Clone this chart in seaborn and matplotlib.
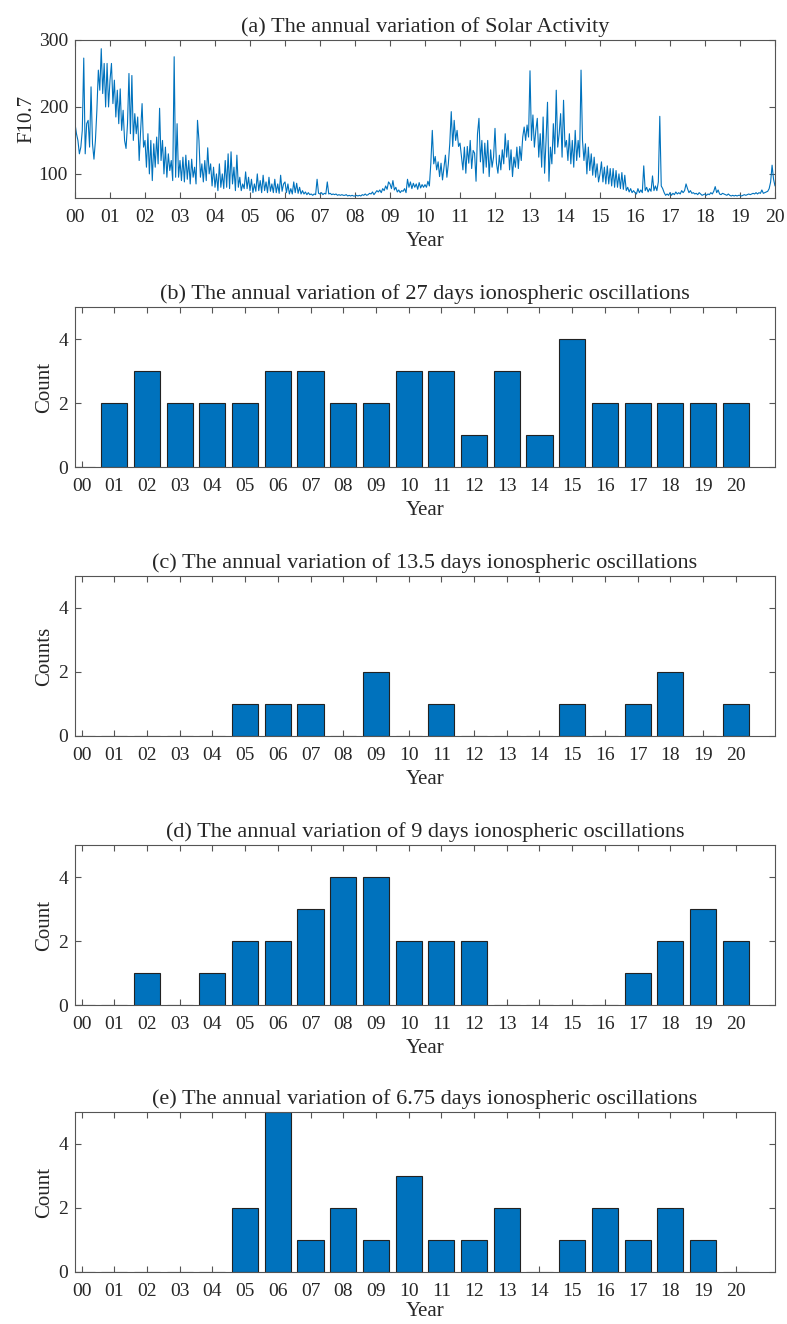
import numpy as np
import pandas as pd
import matplotlib
matplotlib.use("Agg")
import matplotlib.pyplot as plt
import seaborn as sns

# ---------------------------------------------------------------------------
# Daily F10.7 solar flux, sampled twice a month (24 samples per year)
# ---------------------------------------------------------------------------
f107_2000 = [175, 160, 150, 130, 140, 165, 273, 130, 175, 180, 140, 230,
             145, 122, 150, 195, 255, 225, 287, 220, 265, 200, 265, 200]
f107_2001 = [240, 265, 205, 240, 185, 225, 175, 227, 165, 195, 150, 138,
             175, 250, 160, 247, 150, 190, 160, 185, 120, 165, 205, 140]
f107_2002 = [150, 110, 160, 100, 150, 90, 145, 110, 155, 115, 198, 120,
             150, 100, 140, 95, 130, 105, 120, 90, 275, 95, 175, 95]
f107_2003 = [120, 90, 125, 88, 128, 92, 120, 85, 122, 95, 110, 85,
             180, 150, 95, 115, 88, 120, 90, 139, 100, 115, 82, 110]
f107_2004 = [80, 100, 75, 115, 80, 100, 78, 120, 80, 130, 78, 133,
             85, 110, 75, 128, 80, 95, 75, 85, 78, 103, 78, 95]
f107_2005 = [75, 92, 72, 85, 74, 100, 75, 90, 72, 98, 75, 88,
             72, 95, 74, 85, 72, 92, 72, 85, 71, 98, 74, 85]
f107_2006 = [88, 72, 85, 70, 78, 70, 88, 72, 86, 71, 80, 70,
             75, 70, 73, 69, 72, 69, 70, 68, 70, 69, 92, 71]
f107_2007 = [70, 72, 69, 71, 70, 88, 70, 71, 69, 70, 69, 70,
             68, 69, 68, 69, 68, 68, 69, 67, 68, 67, 68, 67]
f107_2008 = [67, 68, 67, 68, 67, 69, 68, 70, 68, 69, 71, 70,
             73, 69, 72, 75, 73, 76, 72, 78, 75, 82, 77, 88]
f107_2009 = [85, 78, 90, 76, 80, 73, 76, 72, 75, 74, 78, 72,
             92, 80, 88, 78, 86, 80, 85, 77, 87, 79, 84, 80]
f107_2010 = [84, 80, 89, 82, 116, 165, 115, 126, 106, 118, 96, 116,
             91, 110, 128, 95, 115, 146, 193, 141, 180, 150, 165, 141]
f107_2011 = [146, 126, 106, 140, 101, 141, 116, 150, 108, 135, 131, 89,
             160, 183, 118, 150, 101, 146, 110, 150, 96, 136, 110, 125]
f107_2012 = [168, 116, 101, 128, 106, 136, 115, 160, 125, 150, 106, 136,
             96, 125, 110, 140, 108, 141, 120, 155, 170, 150, 173, 155]
f107_2013 = [254, 150, 188, 140, 165, 183, 125, 160, 110, 185, 101, 150,
             207, 89, 140, 115, 175, 130, 225, 140, 160, 190, 125, 210]
f107_2014 = [140, 150, 120, 160, 115, 150, 110, 165, 120, 150, 125, 255,
             150, 120, 145, 100, 140, 105, 130, 98, 125, 95, 115, 88]
f107_2015 = [100, 118, 88, 110, 85, 112, 85, 108, 82, 108, 80, 105,
             80, 100, 78, 102, 77, 98, 75, 80, 73, 78, 72, 75]
f107_2016 = [72, 70, 78, 72, 76, 72, 112, 75, 80, 73, 78, 74,
             97, 75, 82, 75, 88, 186, 82, 78, 72, 68, 70, 68]
f107_2017 = [72, 68, 71, 69, 73, 70, 72, 70, 75, 72, 75, 85,
             78, 72, 75, 71, 72, 70, 71, 69, 72, 70, 68, 69]
f107_2018 = [70, 68, 70, 69, 72, 70, 74, 81, 72, 76, 70, 69,
             71, 70, 69, 68, 70, 68, 67, 68, 67, 68, 67, 68]
f107_2019 = [68, 67, 68, 69, 68, 69, 70, 69, 70, 71, 70, 72,
             70, 72, 71, 76, 71, 72, 73, 74, 78, 88, 113, 92]
f107_2020_start = [82]

f107_years = [f107_2000, f107_2001, f107_2002, f107_2003, f107_2004,
              f107_2005, f107_2006, f107_2007, f107_2008, f107_2009,
              f107_2010, f107_2011, f107_2012, f107_2013, f107_2014,
              f107_2015, f107_2016, f107_2017, f107_2018, f107_2019,
              f107_2020_start]
samples_per_year = 24

# ---------------------------------------------------------------------------
# Yearly counts of ionospheric oscillation events, 2000-2020
# ---------------------------------------------------------------------------
year_labels = ["00", "01", "02", "03", "04", "05", "06", "07", "08", "09",
               "10", "11", "12", "13", "14", "15", "16", "17", "18", "19",
               "20"]
count_27d = [0, 2, 3, 2, 2, 2, 3, 3, 2, 2, 3, 3, 1, 3, 1, 4, 2, 2, 2, 2, 2]
count_13_5d = [0, 0, 0, 0, 0, 1, 1, 1, 0, 2, 0, 1, 0, 0, 0, 1, 0, 1, 2, 0, 1]
count_9d = [0, 0, 1, 0, 1, 2, 2, 3, 4, 4, 2, 2, 2, 0, 0, 0, 0, 1, 2, 3, 2]
count_6_75d = [0, 0, 0, 0, 0, 2, 5, 1, 2, 1, 3, 1, 1, 2, 0, 1, 2, 1, 2, 1, 0]

titles = [
    "(a) The annual variation of Solar Activity",
    "(b) The annual variation of 27 days ionospheric oscillations",
    "(c) The annual variation of 13.5 days ionospheric oscillations",
    "(d) The annual variation of 9 days ionospheric oscillations",
    "(e) The annual variation of 6.75 days ionospheric oscillations",
]
bar_ylabels = ["Count", "Counts", "Count", "Count"]

# ---------------------------------------------------------------------------
# Style
# ---------------------------------------------------------------------------
sns.set_theme(style="ticks")
plt.rcParams["font.family"] = ["Liberation Serif", "DejaVu Serif"]

BLUE = "#0072BD"
SPINE = "#555555"
TEXT = "#262626"
FS_TICK = 14
FS_LABEL = 15
FS_TITLE = 16

W, H = 787, 1324
fig = plt.figure(figsize=(W / 100, H / 100), dpi=100)


def px_axes(left, top, right, bottom):
    return fig.add_axes([left / W, 1 - bottom / H,
                         (right - left) / W, (bottom - top) / H])


def style_axes(ax):
    for sp in ax.spines.values():
        sp.set_visible(True)
        sp.set_color(SPINE)
        sp.set_linewidth(0.8)
    ax.tick_params(direction="in", top=True, right=True, length=4.5,
                   width=0.8, color=SPINE, labelsize=FS_TICK,
                   labelcolor=TEXT)
    ax.tick_params(axis="x", pad=8)
    ax.tick_params(axis="y", pad=5)


# ---------------------------------------------------------------------------
# (a) F10.7 time series
# ---------------------------------------------------------------------------
f107 = np.concatenate([np.asarray(v, dtype=float) for v in f107_years])
t = np.arange(f107.size) / samples_per_year
solar = pd.DataFrame({"year": t, "f107": f107})

ax = px_axes(75, 40, 775, 198)
sns.lineplot(data=solar, x="year", y="f107", ax=ax, color=BLUE,
             linewidth=0.8, estimator=None)
ax.set_xlim(0, 20)
ax.set_ylim(64, 300)
ax.set_xticks(range(21))
ax.set_xticklabels(year_labels)
ax.set_yticks([100, 200, 300])
ax.set_xlabel("Year", fontsize=FS_LABEL, color=TEXT, labelpad=4)
ax.set_ylabel("F10.7", fontsize=FS_LABEL, color=TEXT, labelpad=2)
ax.set_title(titles[0], fontsize=FS_TITLE, color=TEXT, pad=6)
style_axes(ax)

# ---------------------------------------------------------------------------
# (b)-(e) yearly event counts
# ---------------------------------------------------------------------------
bar_series = [count_27d, count_13_5d, count_9d, count_6_75d]
bar_bottoms = [467, 736, 1005, 1272]

for i, (counts, bottom) in enumerate(zip(bar_series, bar_bottoms)):
    ax = px_axes(75, bottom - 160, 775, bottom)
    df = pd.DataFrame({"year": year_labels, "count": counts})
    sns.barplot(data=df, x="year", y="count", ax=ax, color=BLUE,
                saturation=1, width=0.8, edgecolor="#222222",
                linewidth=0.8, errorbar=None)
    ax.set_xlim(-0.2, 21.2)
    ax.set_ylim(0, 5)
    ax.set_yticks([0, 2, 4])
    is_last = i == len(bar_series) - 1
    ax.set_xlabel("Year", fontsize=FS_LABEL, color=TEXT,
                  labelpad=1 if is_last else 4)
    ax.set_ylabel(bar_ylabels[i], fontsize=FS_LABEL, color=TEXT, labelpad=3)
    ax.set_title(titles[i + 1], fontsize=FS_TITLE, color=TEXT, pad=6)
    style_axes(ax)

fig.savefig("out.png", dpi=100, facecolor="white")
